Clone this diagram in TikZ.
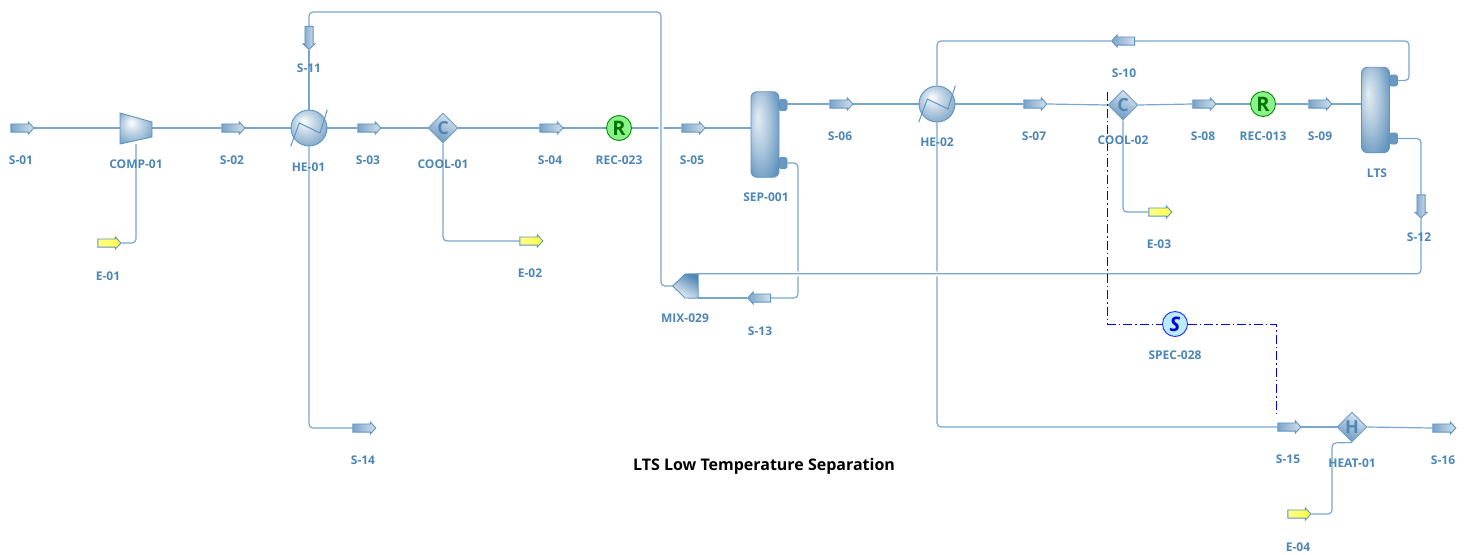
\documentclass[tikz,border=0pt]{standalone}
\usepackage{fontspec}
\setmainfont{Open Sans}
\usepackage{xcolor}
\usepackage{tikz}
\usetikzlibrary{shapes.geometric,shapes.arrows}
\usetikzlibrary{backgrounds}
\usetikzlibrary{calc}
\definecolor{pipeblue}{HTML}{7AA6CE}
\definecolor{edgeblue}{HTML}{5F94C0}
\definecolor{tagblue}{HTML}{4C86B6}
\definecolor{deepblue}{HTML}{4F86B5}
\pgfdeclareradialshading{heball}{\pgfpoint{-8bp}{10bp}}{color(0bp)=(white);color(12bp)=(white!70!deepblue);color(30bp)=(white!30!deepblue);color(50bp)=(deepblue)}
\pgfdeclareradialshading{tankball}{\pgfpoint{-14bp}{10bp}}{color(0bp)=(white!85!deepblue);color(16bp)=(white!55!deepblue);color(34bp)=(white!12!deepblue);color(50bp)=(deepblue)}
\tikzset{
	pipe/.style={draw=pipeblue, line width=1.2pt},
	over pipe/.style={pipe, preaction={draw=white, line width=5pt}},
	signal/.style={draw=blue, line width=1pt, dash pattern=on 9pt off 3pt on 1.5pt off 3pt},
	tag/.style={text=tagblue, font=\fontsize{12}{13}\selectfont\bfseries, inner sep=0pt},
	stream/.style={shape=single arrow, draw=edgeblue, line width=.9pt, minimum height=23pt, inner xsep=0pt, inner ysep=3.6pt, single arrow head extend=2pt, single arrow tip angle=95, left color=deepblue!75!white, right color=deepblue!25!white},
	energy/.style={stream, left color=yellow!45!white, right color=yellow!75!white},
	hex/.style={circle, draw=edgeblue, line width=.9pt, minimum size=36pt, inner sep=0pt, shading=heball},
	duty/.style={diamond, draw=edgeblue!90!white, line width=.9pt, minimum size=30pt, inner sep=0pt, aspect=1, text=deepblue, font=\fontsize{18}{18}\selectfont\bfseries, top color=deepblue!20!white, bottom color=deepblue!85!white, shading angle=-25},
	recycle/.style={circle, draw=green!55!black, line width=.9pt, minimum size=25pt, inner sep=0pt, fill=green!45!white!90!gray, text=green!45!black, font=\fontsize{20}{20}\selectfont\bfseries},
	spec/.style={circle, draw=blue!85!white, line width=.9pt, minimum size=25pt, inner sep=0pt, fill=blue!25!cyan!28!white, text=blue!85!black, font=\fontsize{20}{20}\selectfont\bfseries\itshape},
	tank/.style={rectangle, rounded corners=6pt, draw=edgeblue, line width=.9pt, minimum width=28pt, minimum height=85.5pt, inner sep=0pt, shading=tankball},
	port/.style={rectangle, rounded corners=1.5pt, draw=edgeblue, line width=.6pt, minimum width=8pt, minimum height=11pt, inner sep=0pt, fill=deepblue!85!white},
	anchorbox/.style={rectangle, inner sep=0pt}
}
\newcommand{\hexchanger}[2]{
	\node[hex] (#1) at #2 {};
	\draw[edgeblue, line width=1pt] ($(#1)+(-18.3,18.3)$) -- ($(#1)+(-9.7,-5)$) -- ($(#1)+(11,5)$) -- ($(#1)+(18.3,-18.3)$);
}
\newcommand{\vessel}[2]{
	\node[port] (#1top) at ($#2+(18,-29.5)$) {};
	\node[port] (#1bot) at ($#2+(18,28.5)$) {};
	\node[tank] (#1) at #2 {};
}
\begin{document}
\begin{tikzpicture}[x=1pt, y=-1pt]
	\useasboundingbox (0,0) rectangle (1471,554);
%
	\foreach \nm/\px/\py/\lx/\ly/\txt in {s01/20.5/128/21/160.5/S-01, s02/231.5/128/232/160.5/S-02, s03/367.5/128/368/160.5/S-03, s04/549.5/128/550/160.5/S-04, s05/691.5/128/692/160.5/S-05, s06/839.5/104/840/136.5/S-06, s07/1033.5/104/1034/136.5/S-07, s08/1202.5/104/1203/136.5/S-08, s09/1318.5/104/1320/136.5/S-09, s14/362.5/428/363/460.5/S-14, s15/1287.5/427/1288/459.5/S-15, s16/1442.5/428/1443/460.5/S-16}{
		\node[stream] (\nm) at (\px,\py) {};
		\node[tag] (\nm tag) at (\lx,\ly) {\txt};
	}
	\foreach \nm/\px/\py/\lx/\ly/\txt in {e01/107.5/243/108/276.5/E-01, e02/529.5/241/530/273.5/E-02, e03/1158.5/212/1159/244.5/E-03, e04/1297.5/514/1298/547/E-04}{
		\node[energy] (\nm) at (\px,\py) {};
		\node[tag] (\nm tag) at (\lx,\ly) {\txt};
	}
	\node[stream, rotate=180] (s10) at (1125,41) {};
	\node[tag] (s10tag) at (1124,73.5) {S-10};
	\node[stream, rotate=180] (s13) at (761,298) {};
	\node[tag] (s13tag) at (760,331) {S-13};
	\node[stream, rotate=-90] (s11) at (309,36) {};
	\node[tag] (s11tag) at (309,68.5) {S-11};
	\node[stream, rotate=-90] (s12) at (1421,204.5) {};
	\node[tag] (s12tag) at (1419,237.5) {S-12};
%
	\node[anchorbox, minimum width=32pt, minimum height=31pt] (comp01) at (136,128.5) {};
	\shade[draw=edgeblue, line width=.9pt, shading=heball] (120,113) -- (152,122) -- (152,137) -- (120,144) -- cycle;
	\node[tag] (comp01tag) at (136,164.5) {COMP-01};
%
	\hexchanger{he01}{(309,128)}
	\node[tag] (he01tag) at (308.5,167.5) {HE-01};
	\hexchanger{he02}{(937,104)}
	\node[tag] (he02tag) at (937,142.5) {HE-02};
%
	\node[duty] (cool01) at (443,128) {C};
	\node[tag] (cool01tag) at (443,164.5) {COOL-01};
	\node[duty] (cool02) at (1123,105) {C};
	\node[tag] (cool02tag) at (1123,140.5) {COOL-02};
	\node[duty] (heat01) at (1352,427) {H};
	\node[tag] (heat01tag) at (1352,463) {HEAT-01};
%
	\node[recycle] (rec023) at (619,128) {R};
	\node[tag] (rec023tag) at (619,160.5) {REC-023};
	\node[recycle] (rec013) at (1263,104) {R};
	\node[tag] (rec013tag) at (1263,136.5) {REC-013};
	\node[spec] (spec028) at (1175,324) {S};
	\node[tag] (spec028tag) at (1175,355.5) {SPEC-028};
%
	\vessel{sep001}{(765,134.5)}
	\node[tag] (sep001tag) at (766,197.5) {SEP-001};
	\vessel{lts}{(1375.5,110)}
	\node[tag] (ltstag) at (1377,173.5) {LTS};
%
	\node[anchorbox, minimum width=25pt, minimum height=24pt] (mix029) at (685.5,286) {};
	\shade[draw=edgeblue, line width=.9pt, top color=deepblue, bottom color=deepblue!10!white, shading angle=-30] (mix029.west) -- (685,274) -- (mix029.north east) -- (mix029.south east) -- (685,298) -- cycle;
	\node[tag] (mix029tag) at (685,318.5) {MIX-029};
%
	\node[text=black, font=\fontsize{16}{18}\selectfont\bfseries, inner sep=0pt] (title) at (764,466.5) {LTS Low Temperature Separation};
%
	\coordinate (topbend) at (661,12);
	\coordinate (ltsbend) at (1409,41);
	\coordinate (heatbend) at (1332,443);
	\coordinate (sepbend) at (798,298);
	\coordinate (sigstart) at (1107.5,92);
	\coordinate (sigcorner) at (1107.5,324);
	\coordinate (sigdrop) at (1276,324);
	\coordinate (sigend) at (1276,416);
%
	\begin{scope}[on background layer]
		\draw[pipe] (s01.tip) -- (s01.tip -| comp01.west);
		\draw[pipe] (s02.tail -| comp01.east) -- (s02.tail);
		\draw[pipe] (s02.tip) -- (he01.west);
		\draw[pipe] (he01.east) -- (s03.tail);
		\draw[pipe] (s03.tip) -- (cool01.west);
		\draw[pipe] (cool01.east) -- (s04.tail);
		\draw[pipe] (s04.tip) -- (rec023.west);
		\draw[pipe] (rec023.east) -- (s05.tail);
		\draw[pipe] (s05.tip) -- (s05.tip -| sep001.west);
		\draw[pipe] (s06.tail -| sep001top.east) -- (s06.tail);
		\draw[pipe] (s06.tip) -- (he02.west);
		\draw[pipe] (he02.east) -- (s07.tail);
		\draw[pipe] (s07.tip) -- (cool02.west);
		\draw[pipe] (cool02.east) -- (s08.tail);
		\draw[pipe] (s08.tip) -- (rec013.west);
		\draw[pipe] (rec013.east) -- (s09.tail);
		\draw[pipe] (s09.tip) -- (s09.tip -| lts.west);
		\draw[pipe] (s15.tip) -- (heat01.west);
		\draw[pipe] (heat01.east) -- (s16.tail);
		\draw[pipe] (s11.tip) -- (he01.north);
%
		\draw[pipe, rounded corners=4pt] (s10.tip) -| (he02.north);
		\draw[pipe, rounded corners=4pt] (he02.south) |- (s15.tail);
		\draw[pipe, rounded corners=4pt] (he01.south) |- (s14.tail);
		\draw[pipe, rounded corners=4pt] (e01.tip) -| (comp01.south);
		\draw[pipe, rounded corners=4pt] (cool01.south) |- (e02.tail);
		\draw[pipe, rounded corners=4pt] (cool02.south) |- (e03.tail);
		\draw[pipe, rounded corners=4pt] (e04.tip) -| (heatbend) -- (heat01.south);
		\draw[pipe, rounded corners=4pt] (ltstop.east) -| (ltsbend) -- (s10.tail);
		\draw[pipe, rounded corners=4pt] (ltsbot.east) -| (s12.tail);
		\draw[pipe, rounded corners=4pt] (sep001bot.east) -| (sepbend) -- (s13.tail);
		\draw[pipe] (s13.tip) -- (s13.tip -| mix029.east);
%
		\draw[over pipe, rounded corners=4pt] (mix029.west) -| (topbend) -| (s11.tail);
		\draw[over pipe, rounded corners=4pt] (s12.tip) |- (mix029.north east);
		\draw[signal] (sigstart) -- (sigcorner) -- (spec028.west);
		\draw[signal] (spec028.east) -- (sigdrop) -- (sigend);
	\end{scope}
\end{tikzpicture}
\end{document}
